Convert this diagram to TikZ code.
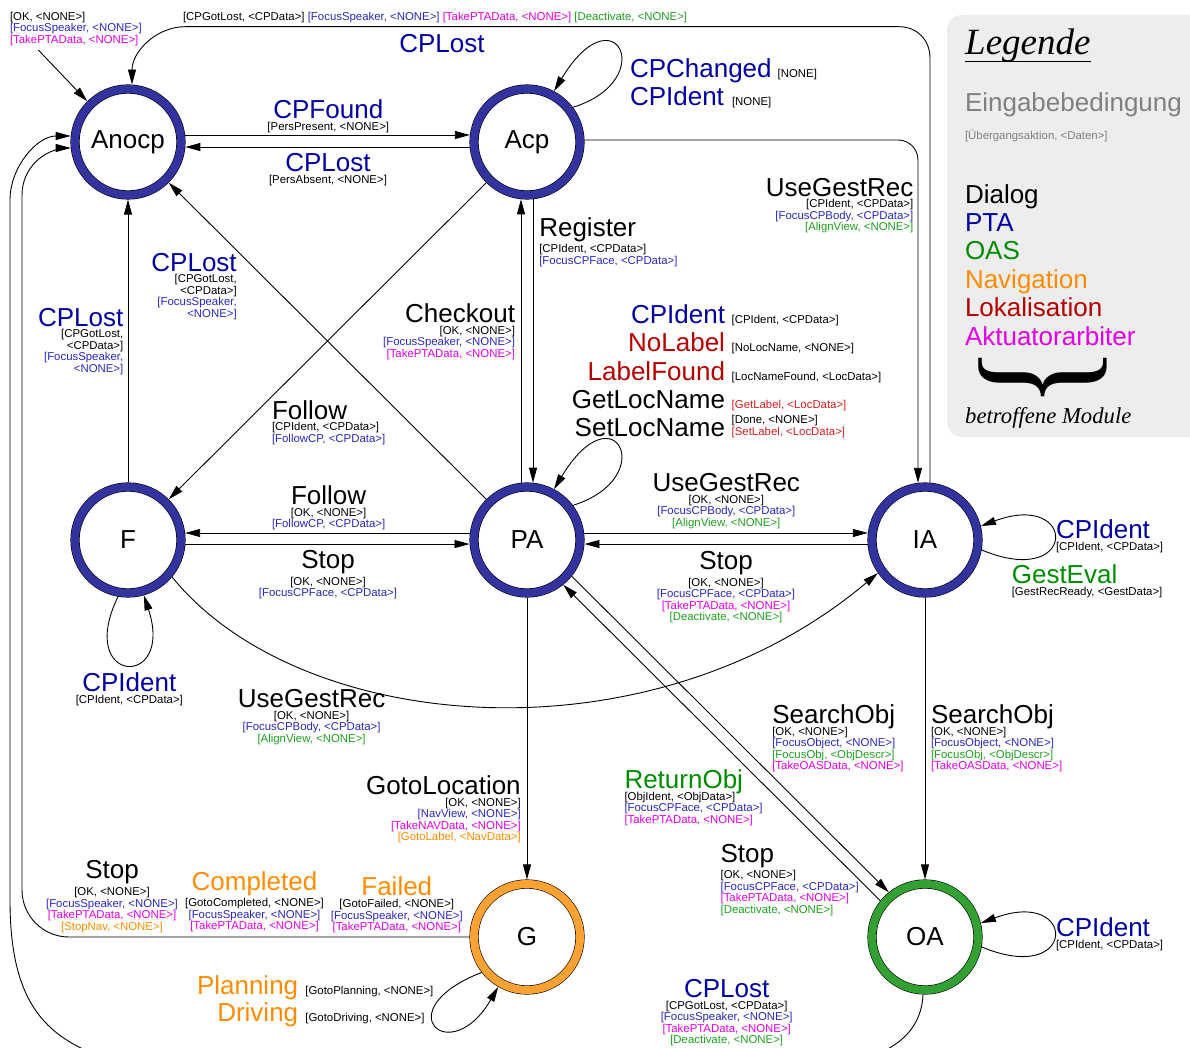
\documentclass[tikz,border=0pt]{standalone}
\usepackage{fontspec}
\usepackage{graphicx}
\setmainfont{Liberation Sans}
\newfontfamily\legserif{Liberation Serif}
\usetikzlibrary{arrows.meta,calc}
\setlength{\lineskip}{3pt}

% module colours
\definecolor{ptac}{RGB}{0,0,160}
\definecolor{ptas}{RGB}{40,40,190}
\definecolor{oasc}{RGB}{0,140,0}
\definecolor{oass}{RGB}{30,160,30}
\definecolor{navc}{RGB}{255,140,0}
\definecolor{lokc}{RGB}{180,0,0}
\definecolor{lokl}{RGB}{215,30,30}
\definecolor{aktc}{RGB}{225,0,225}
% state rings
\definecolor{ringb}{RGB}{51,51,160}
\definecolor{ringo}{RGB}{255,162,50}
\definecolor{ringg}{RGB}{51,160,51}
% legend
\definecolor{leggray}{RGB}{237,237,237}
\definecolor{txtgray}{RGB}{128,128,128}

% event names (large) and actions (small)
\newcommand\Bg[1]{{\fontsize{26}{26}\selectfont#1}}
\newcommand\bK[1]{\Bg{#1}}
\newcommand\bB[1]{\Bg{\textcolor{ptac}{#1}}}
\newcommand\bG[1]{\Bg{\textcolor{oasc}{#1}}}
\newcommand\bO[1]{\Bg{\textcolor{navc}{#1}}}
\newcommand\bR[1]{\Bg{\textcolor{lokc}{#1}}}
\newcommand\sK[1]{#1}
\newcommand\sB[1]{\textcolor{ptas}{#1}}
\newcommand\sG[1]{\textcolor{oass}{#1}}
\newcommand\sO[1]{\textcolor{navc}{#1}}
\newcommand\sR[1]{\textcolor{lokl}{#1}}
\newcommand\sM[1]{\textcolor{aktc}{#1}}

\begin{document}
\begin{tikzpicture}[x=1pt,y=-1pt,
  stnode/.style={circle, draw=black, line width=0.6pt, double=#1, double distance=8pt,
    minimum size=106pt, inner sep=0pt, outer sep=4.6pt, fill=white,
    font=\fontsize{26}{26}\selectfont},
  arr/.style={draw=black, line width=0.9pt, -{Triangle[length=15pt,width=8pt]}},
  blk/.style={inner sep=0pt, outer sep=0pt, font=\fontsize{11.4}{11.5}\selectfont},
  big/.style={inner sep=0pt, outer sep=0pt, font=\fontsize{26}{26}\selectfont},
  sml/.style={inner sep=0pt, outer sep=0pt, font=\fontsize{11.4}{11.5}\selectfont},
]
\useasboundingbox (0,0) rectangle (1190,1048);

% ---------- states ----------
\node[stnode=ringb] (Anocp) at (128,142) {Anocp};
\node[stnode=ringb] (Acp)   at (527,142) {Acp};
\node[stnode=ringb] (F)     at (128,540) {F};
\node[stnode=ringb] (PA)    at (527,540) {PA};
\node[stnode=ringb] (IA)    at (925,540) {IA};
\node[stnode=ringo] (G)     at (527,937) {G};
\node[stnode=ringg] (OA)    at (925,937) {OA};

% ---------- legend box and the outer return path ----------
\begin{scope}
  \clip (0,0) rectangle (1190,1048);
  \fill[leggray, rounded corners=15] (947,15) rectangle (1220,437);
  % OA -> Anocp, running round the outside
  \draw[arr] (OA.268) .. controls (921,1040) and (880,1065) .. (800,1068)
     -- (130,1065) .. controls (50,1045) and (10,1010) .. (10,900)
     -- (10,200) .. controls (10,167) and (37,136) .. (Anocp.174);
\end{scope}

\node[anchor=base west, inner sep=0pt, font=\legserif\itshape\fontsize{37}{37}\selectfont]
  (legtitle) at (965,55) {Legende};
\draw[line width=1.8pt] ($(legtitle.base west)+(0,6.5)$) -- ($(legtitle.base east)+(0,6.5)$);
\node[big, anchor=base west, text=txtgray] (legcond) at (965,111.7) {Eingabebedingung};
\node[sml, anchor=base west, text=txtgray] (legact) at (965,140) {[Übergangsaktion, <Daten>]};
\node[big, anchor=base west] (legdia) at (965,203.3) {Dialog};
\node[big, anchor=base west, text=ptac] (legpta) at (965,231.7) {PTA};
\node[big, anchor=base west, text=oasc] (legoas) at (965,260) {OAS};
\node[big, anchor=base west, text=navc] (legnav) at (965,288.3) {Navigation};
\node[big, anchor=base west, text=lokc] (leglok) at (965,316.7) {Lokalisation};
\node[big, anchor=base west, text=aktc] (legakt) at (965,345) {Aktuatorarbiter};
\node[rotate=-90, inner sep=0pt] (legbrace) at (1042.5,378)
  {\scalebox{0.85}[1.02]{\legserif\fontsize{152}{152}\selectfont\}}};
\node[anchor=base west, inner sep=0pt, font=\legserif\itshape\fontsize{22.7}{22.7}\selectfont]
  (legmod) at (965,423) {betroffene Module};

% ---------- transitions ----------
\coordinate (init) at (38.3,50);
\draw[arr] (init) -- (Anocp.135);
\draw[arr] (Anocp.7) -- (Acp.173);
\draw[arr] (Acp.185) -- (Anocp.355);
\draw[arr] (IA.85) -- (930,58) .. controls (930,40) and (917,26.7) .. (899,26.7)
   -- (185,26.7) .. controls (156,26.7) and (132,52) .. (Anocp.86);
\draw[arr, rounded corners=20] (Acp.2) -| (IA.97);
\draw[arr] (Acp.276) -- (PA.84);
\draw[arr] (PA.96) -- (Acp.264);
\draw[arr] (F.north) -- (Anocp.south);
\draw[arr] (PA.135) -- (Anocp.315);
\draw[arr] (Acp.225) -- (F.45);
\draw[arr] (PA.173) -- (F.7);
\draw[arr] (F.356) -- (PA.184);
\draw[arr] (PA.7) -- (IA.173);
\draw[arr] (IA.184) -- (PA.356);
\draw[arr] (PA.south) -- (G.north);
\draw[arr] (IA.south) -- (OA.north);
\draw[arr] (PA.321) -- (OA.129);
\draw[arr] (OA.141) -- (PA.309);
\draw[arr] (F.320) .. controls (300,735) and (650,765) .. (IA.215);
\draw[arr, rounded corners=47] (G.west) -| (22,148) -- (Anocp.186);
% self loops
\draw[arr] (Acp.37) .. controls (660,80) and (615,-10) .. (Acp.62);
\draw[arr] (PA.37) .. controls (660,478) and (615,388) .. (PA.62);
\draw[arr] (F.260) .. controls (75,685) and (175,690) .. (F.286);
\draw[arr] (IA.350) .. controls (1078,590) and (1078,490) .. (IA.14);
\draw[arr] (OA.350) .. controls (1078,987) and (1078,887) .. (OA.14);
\draw[arr] (G.218) .. controls (385,1010) and (450,1070) .. (G.240);

% ---------- transition labels ----------
\node[blk, align=left, anchor=north west] (linit) at (10,12.1)
  {\sK{[OK, <NONE>]}\\ \sB{[FocusSpeaker, <NONE>]}\\ \sM{[TakePTAData, <NONE>]}};
\node[sml, anchor=base west] (ltopact) at (183,20.7)
  {\sK{[CPGotLost, <CPData>]} \sB{[FocusSpeaker, <NONE>]} \sM{[TakePTAData, <NONE>]} \sG{[Deactivate, <NONE>]}};
\node[big, anchor=base, text=ptac] (ltop) at (442,52.7) {CPLost};

\node[blk, align=center, anchor=north] (lfound) at (328.3,99.7)
  {\bB{CPFound}\\ \sK{[PersPresent, <NONE>]}};
\node[blk, align=center, anchor=north] (llost) at (328,153.7)
  {\bB{CPLost}\\ \sK{[PersAbsent, <NONE>]}};

\node[big, anchor=base west, text=ptac] (lchg) at (630,77.3) {CPChanged};
\node[sml, anchor=base west] (lchgs) at (777.7,77.3) {[NONE]};
\node[big, anchor=base west, text=ptac] (lacpid) at (630,106) {CPIdent};
\node[sml, anchor=base west] (lacpids) at (732,106) {[NONE]};

\node[blk, align=right, anchor=north east] (lugr1) at (913.3,178.1)
  {\bK{UseGestRec}\\ \sK{[CPIdent, <CPData>]}\\ \sB{[FocusCPBody, <CPData>]}\\ \sG{[AlignView, <NONE>]}};
\node[blk, align=left, anchor=north west] (lreg) at (539.3,217.4)
  {\bK{Register}\\ \sK{[CPIdent, <CPData>]}\\ \sB{[FocusCPFace, <CPData>]}};
\node[blk, align=right, anchor=north east] (lchk) at (515,304.1)
  {\bK{Checkout}\\ \sK{[OK, <NONE>]}\\ \sB{[FocusSpeaker, <NONE>]}\\ \sM{[TakePTAData, <NONE>]}};
\node[blk, align=right, anchor=north east] (llost2) at (236.7,253.1)
  {\bB{CPLost}\\ \sK{[CPGotLost,}\\ \sK{<CPData>]}\\ \sB{[FocusSpeaker,}\\ \sB{<NONE>]}};
\node[blk, align=right, anchor=north east] (llost3) at (123.3,308.1)
  {\bB{CPLost}\\ \sK{[CPGotLost,}\\ \sK{<CPData>]}\\ \sB{[FocusSpeaker,}\\ \sB{<NONE>]}};

\node[big, anchor=base east, text=ptac] (lpa1) at (725,323.3) {CPIdent};
\node[sml, anchor=base west] (lpa1s) at (731.7,323.3) {[CPIdent, <CPData>]};
\node[big, anchor=base east, text=lokc] (lpa2) at (725,351.7) {NoLabel};
\node[sml, anchor=base west] (lpa2s) at (731.7,351.7) {[NoLocName, <NONE>]};
\node[big, anchor=base east, text=lokc] (lpa3) at (725,380) {LabelFound};
\node[sml, anchor=base west] (lpa3s) at (731.7,380) {[LocNameFound, <LocData>]};
\node[big, anchor=base east] (lpa4) at (725,408.3) {GetLocName};
\node[sml, anchor=base west, text=lokl] (lpa4s) at (731.7,408.3) {[GetLabel, <LocData>]};
\node[big, anchor=base east] (lpa5) at (725,436.3) {SetLocName};
\node[blk, align=left, anchor=north west] (lpa5s) at (731.7,415.6)
  {\sK{[Done, <NONE>]}\\ \sR{[SetLabel, <LocData>]}};

\node[blk, align=left, anchor=north west] (lfol1) at (272,400.4)
  {\bK{Follow}\\ \sK{[CPIdent, <CPData>]}\\ \sB{[FollowCP, <CPData>]}};
\node[blk, align=center, anchor=north] (lfol2) at (328.6,485.7)
  {\bK{Follow}\\ \sK{[OK, <NONE>]}\\ \sB{[FollowCP, <CPData>]}};
\node[blk, align=center, anchor=north] (lstop1) at (328,550.4)
  {\bK{Stop}\\ \sK{[OK, <NONE>]}\\ \sB{[FocusCPFace, <CPData>]}};
\node[blk, align=center, anchor=north] (lugr2) at (726.3,473.7)
  {\bK{UseGestRec}\\ \sK{[OK, <NONE>]}\\ \sB{[FocusCPBody, <CPData>]}\\ \sG{[AlignView, <NONE>]}};
\node[blk, align=center, anchor=north] (lstop2) at (726,551.4)
  {\bK{Stop}\\ \sK{[OK, <NONE>]}\\ \sB{[FocusCPFace, <CPData>]}\\ \sM{[TakePTAData, <NONE>]}\\ \sG{[Deactivate, <NONE>]}};
\node[blk, align=left, anchor=north west] (liaid) at (1056,519.7)
  {\bB{CPIdent}\\ \sK{[CPIdent, <CPData>]}};
\node[blk, align=left, anchor=north west] (lgest) at (1011.8,564.7)
  {\bG{GestEval}\\ \sK{[GestRecReady, <GestData>]}};
\node[blk, align=center, anchor=north] (lfid) at (129.3,673.1)
  {\bB{CPIdent}\\ \sK{[CPIdent, <CPData>]}};
\node[blk, align=center, anchor=north] (lugr3) at (311.6,689.7)
  {\bK{UseGestRec}\\ \sK{[OK, <NONE>]}\\ \sB{[FocusCPBody, <CPData>]}\\ \sG{[AlignView, <NONE>]}};
\node[blk, align=left, anchor=north west] (lsrch1) at (772.3,704.7)
  {\bK{SearchOb\smash{j}}\\ \sK{[OK, <NONE>]}\\ \sB{[FocusObject, <NONE>]}\\ \sG{[FocusObj, <ObjDescr>]}\\ \sM{[TakeOASData, <NONE>]}};
\node[blk, align=left, anchor=north west] (lsrch2) at (931,704.7)
  {\bK{SearchOb\smash{j}}\\ \sK{[OK, <NONE>]}\\ \sB{[FocusObject, <NONE>]}\\ \sG{[FocusObj, <ObjDescr>]}\\ \sM{[TakeOASData, <NONE>]}};
\node[blk, align=right, anchor=north east] (lgoto) at (520.7,775.7)
  {\bK{GotoLocation}\\ \sK{[OK, <NONE>]}\\ \sB{[NavView, <NONE>]}\\ \sM{[TakeNAVData, <NONE>]}\\ \sO{[GotoLabel, <NavData>]}};
\node[blk, align=left, anchor=north west] (lret) at (624.5,769.7)
  {\bG{ReturnOb\smash{j}}\\ \sK{[ObjIdent, <ObjData>]}\\ \sB{[FocusCPFace, <CPData>]}\\ \sM{[TakePTAData, <NONE>]}};
\node[blk, align=left, anchor=north west] (lstop3) at (720.6,844.1)
  {\bK{Stop}\\ \sK{[OK, <NONE>]}\\ \sB{[FocusCPFace, <CPData>]}\\ \sM{[TakePTAData, <NONE>]}\\ \sG{[Deactivate, <NONE>]}};
\node[blk, align=left, anchor=north west] (loaid) at (1056,918.1)
  {\bB{CPIdent}\\ \sK{[CPIdent, <CPData>]}};
\node[blk, align=center, anchor=north] (llost4) at (726.7,979.7)
  {\bB{CPLost}\\ \sK{[CPGotLost, <CPData>]}\\ \sB{[FocusSpeaker, <NONE>]}\\ \sM{[TakePTAData, <NONE>]}\\ \sG{[Deactivate, <NONE>]}};
\node[blk, align=center, anchor=north] (lstop4) at (112,860.7)
  {\bK{Stop}\\ \sK{[OK, <NONE>]}\\ \sB{[FocusSpeaker, <NONE>]}\\ \sM{[TakePTAData, <NONE>]}\\ \sO{[StopNav, <NONE>]}};
\node[blk, align=center, anchor=north] (lcompl) at (254.5,871.4)
  {\bO{Completed}\\ \sK{[GotoCompleted, <NONE>]}\\ \sB{[FocusSpeaker, <NONE>]}\\ \sM{[TakePTAData, <NONE>]}};
\node[blk, align=center, anchor=north] (lfail) at (396.8,876.4)
  {\bO{Failed}\\[1.2pt] \sK{[GotoFailed, <NONE>]}\\ \sB{[FocusSpeaker, <NONE>]}\\ \sM{[TakePTAData, <NONE>]}};
\node[big, anchor=base east, text=navc] (lplan) at (298.2,994) {Planning};
\node[sml, anchor=base west] (lplans) at (305.4,994) {[GotoPlanning, <NONE>]};
\node[big, anchor=base east, text=navc] (ldrv) at (298.2,1021.7) {Driving};
\node[sml, anchor=base west] (ldrvs) at (305.4,1021.7) {[GotoDriving, <NONE>]};
\end{tikzpicture}
\end{document}
